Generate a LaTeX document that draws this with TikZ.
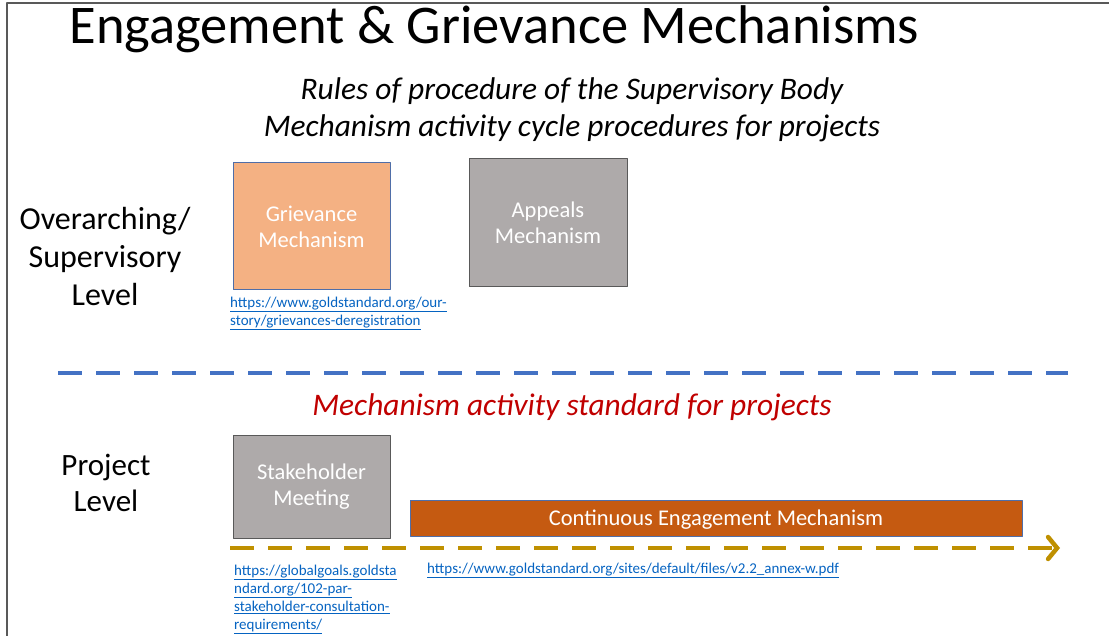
\documentclass[tikz,border=0pt]{standalone}
\usepackage{fontspec}
\setmainfont{Carlito}
\usetikzlibrary{arrows.meta}
\definecolor{framegray}{HTML}{595959}
\definecolor{boxblue}{HTML}{4F6EA8}
\definecolor{lightorange}{HTML}{F4B183}
\definecolor{midgray}{HTML}{AEAAAA}
\definecolor{darkorange}{HTML}{C55A11}
\definecolor{dashblue}{HTML}{4472C4}
\definecolor{gold}{HTML}{BF9000}
\definecolor{linkblue}{HTML}{0563C1}
\definecolor{darkred}{HTML}{C00000}
\newcommand{\fs}[2]{\fontsize{#1}{#2}\selectfont}
\newcommand{\ulink}[1]{\underline{#1}}
\begin{document}
\begin{tikzpicture}[x=1pt,y=-1pt,line join=round,
	mechbox/.style={draw,line width=1pt,align=center,text=white,font=\fs{22.5}{26},inner sep=0pt},
	weblink/.style={text=linkblue,font=\fs{15}{18},align=left,anchor=north west,inner sep=0pt},
	levellabel/.style={align=center,text depth=0pt}]
		\useasboundingbox (0,0) rectangle (1109,636);
		\draw[framegray,line width=1.5pt] (7,640) -- (7,3) -- (1109,3);
		% titles
		\node[anchor=west,font=\fs{54.5}{60}] (title) at (66,29) {Engagement \& Grievance Mechanisms};
		\node[font=\fs{31.4}{36}\itshape] (rules) at (572,91) {Rules of procedure of the Supervisory Body};
		\node[font=\fs{31.4}{36}\itshape] (cycle) at (572,128) {Mechanism activity cycle procedures for projects};
		\node[levellabel,font=\fs{32}{38}] (over) at (105,256) {Overarching/\\Supervisory\\Level};
		% supervisory boxes
		\node[mechbox,fill=lightorange,draw=boxblue,minimum width=157,minimum height=127] (griev) at (311.5,226.5) {Grievance\\Mechanism};
		\node[mechbox,fill=midgray,draw=framegray,minimum width=158,minimum height=128] (appeal) at (548,223) {Appeals\\Mechanism};
		\node[weblink] (grievlink) at (230,297) {\ulink{https://www.goldstandard.org/our-}\\\ulink{story/grievances-deregistration}};
		% separator
		\coordinate (sepL) at (58,373);
		\coordinate (sepR) at (1068,373);
		\draw[dashblue,line width=4.5pt,dash pattern=on 24pt off 14pt] (sepL) -- (sepR);
		\node[font=\fs{31.4}{36}\itshape,text=darkred] (standard) at (572,407) {Mechanism activity standard for projects};
		\node[levellabel,font=\fs{31}{36}] (proj) at (106,483) {Project\\Level};
		% project boxes
		\node[mechbox,fill=midgray,draw=framegray,minimum width=157,minimum height=103] (meeting) at (311.5,486.5) {Stakeholder\\Meeting};
		\node[mechbox,fill=darkorange,draw=boxblue,minimum width=612,minimum height=36,text depth=0pt] (cont) at (716,518) {Continuous Engagement Mechanism};
		\coordinate (arrL) at (230,548);
		\coordinate (arrR) at (1060,548);
		\draw[gold,line width=4.5pt,dash pattern=on 24pt off 14pt,-{Straight Barb[length=9pt,width=22pt,line cap=round]}] (arrL) -- (arrR);
		\node[weblink] (meetlink) at (234,565) {\ulink{https://globalgoals.goldsta}\\\ulink{ndard.org/102-par-}\\\ulink{stakeholder-consultation-}\\\ulink{requirements/}};
		\node[weblink] (contlink) at (427,563) {\ulink{https://www.goldstandard.org/sites/default/files/v2.2\_annex-w.pdf}};
\end{tikzpicture}
\end{document}
